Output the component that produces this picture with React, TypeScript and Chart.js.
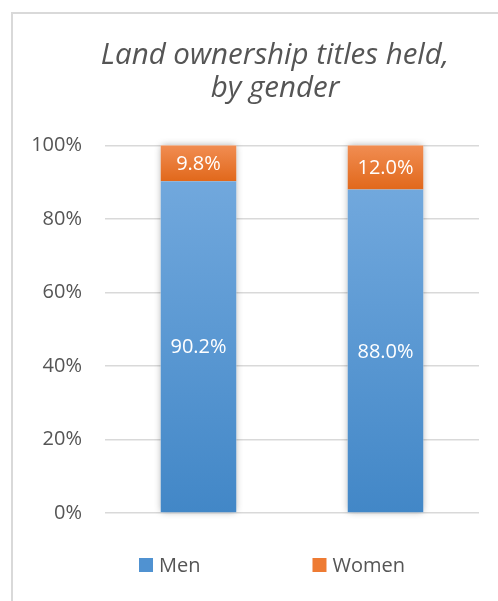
import React, { useEffect, useRef } from "react";
import { Chart, registerables } from "chart.js";

Chart.register(...registerables);

const categories: string[] = ["", ""];
const menValues: number[] = [90.2, 88.0];
const womenValues: number[] = [9.8, 12.0];
const seriesNames: string[] = ["Men", "Women"];
const titleLines: string[] = ["Land ownership titles held,", "by gender"];
const yTicks: number[] = [0, 20, 40, 60, 80, 100];

const FONT = "'Open Sans', 'DejaVu Sans', sans-serif";
const TEXT_COLOR = "#555555";

const blueStops = ["#71a8dd", "#4287c7"];
const orangeStops = ["#f18d52", "#e1681b"];
const legendColors = ["#5092d1", "#ee7b33"];

function gradientFor(stops: string[], which: "men" | "women") {
  return (c: any) => {
    const chart = c.chart;
    const { chartArea, scales } = chart;
    if (!chartArea || !scales || !scales.y || c.type !== "data") return stops[1];
    const i = c.dataIndex;
    const y = scales.y;
    let topV: number, botV: number;
    if (which === "men") {
      topV = menValues[i];
      botV = 0;
    } else {
      topV = menValues[i] + womenValues[i];
      botV = menValues[i];
    }
    const t = y.getPixelForValue(topV);
    const b = y.getPixelForValue(botV);
    if (!isFinite(t) || !isFinite(b) || t === b) return stops[1];
    const g = chart.ctx.createLinearGradient(0, t, 0, b);
    g.addColorStop(0, stops[0]);
    g.addColorStop(1, stops[1]);
    return g;
  };
}

const shadowPlugin = {
  id: "barShadow",
  beforeDatasetsDraw(chart: any) {
    const ctx = chart.ctx;
    const m0 = chart.getDatasetMeta(0);
    const m1 = chart.getDatasetMeta(1);
    m0.data.forEach((el: any, i: number) => {
      const top = Math.min(el.y, m1.data[i] ? m1.data[i].y : el.y);
      const bottom = el.base;
      const left = el.x - el.width / 2;
      ctx.save();
      ctx.shadowColor = "rgba(0,0,0,0.35)";
      ctx.shadowBlur = 7;
      ctx.shadowOffsetX = 0;
      ctx.shadowOffsetY = 0;
      ctx.fillStyle = "#ffffff";
      ctx.fillRect(left, top, el.width, bottom - top);
      ctx.restore();
    });
  },
};

const labelPlugin = {
  id: "segmentLabels",
  afterDatasetsDraw(chart: any) {
    const ctx = chart.ctx;
    ctx.save();
    ctx.font = `20px ${FONT}`;
    ctx.fillStyle = "#ffffff";
    ctx.textAlign = "center";
    ctx.textBaseline = "middle";
    chart.data.datasets.forEach((ds: any, di: number) => {
      const meta = chart.getDatasetMeta(di);
      meta.data.forEach((el: any, i: number) => {
        const v = ds.data[i] as number;
        ctx.fillText(v.toFixed(1) + "%", el.x, (el.y + el.base) / 2 + 1);
      });
    });
    ctx.restore();
  },
};

const legendPlugin = {
  id: "bottomLegend",
  afterDraw(chart: any) {
    const ctx = chart.ctx;
    const ca = chart.chartArea;
    const box = 14;
    const gapText = 6;
    const gapItems = 112;
    ctx.save();
    ctx.font = `20px ${FONT}`;
    ctx.textBaseline = "middle";
    ctx.textAlign = "left";
    const widths = chart.data.datasets.map(
      (ds: any) => box + gapText + ctx.measureText(ds.label).width
    );
    const total = widths.reduce((a: number, b: number) => a + b, 0) + gapItems * (widths.length - 1);
    let x = chart.width / 2 - total / 2 - 3;
    const cy = ca.bottom + 52;
    chart.data.datasets.forEach((ds: any, di: number) => {
      ctx.fillStyle = legendColors[di];
      ctx.fillRect(x, cy - box / 2, box, box);
      ctx.fillStyle = TEXT_COLOR;
      ctx.fillText(ds.label, x + box + gapText, cy + 1);
      x += widths[di] + gapItems;
    });
    ctx.restore();
  },
};

function ChartView() {
  const ref = useRef<HTMLCanvasElement | null>(null);
  useEffect(() => {
    if (!ref.current) return;
    const chart = new Chart(ref.current, {
      type: "bar",
      data: {
        labels: categories,
        datasets: [
          {
            label: seriesNames[0],
            data: menValues,
            backgroundColor: gradientFor(blueStops, "men") as any,
            borderWidth: 0,
            barPercentage: 1,
            categoryPercentage: 0.404,
          },
          {
            label: seriesNames[1],
            data: womenValues,
            backgroundColor: gradientFor(orangeStops, "women") as any,
            borderWidth: 0,
            barPercentage: 1,
            categoryPercentage: 0.404,
          },
        ],
      },
      options: {
        responsive: false,
        animation: false,
        devicePixelRatio: 1,
        layout: { padding: { left: 0, right: 0, top: 0, bottom: 88 } },
        plugins: {
          legend: { display: false },
          tooltip: { enabled: false },
          title: {
            display: true,
            text: titleLines,
            color: TEXT_COLOR,
            font: { family: FONT, size: 29.5, style: "italic", weight: "normal", lineHeight: 1.09 },
            padding: { top: 27, bottom: 41 },
          },
        },
        scales: {
          x: {
            stacked: true,
            display: false,
            offset: true,
          },
          y: {
            stacked: true,
            min: 0,
            max: 100,
            afterBuildTicks: (axis: any) => {
              axis.ticks = yTicks.map((v) => ({ value: v }));
            },
            afterFit: (axis: any) => {
              axis.width = 93;
            },
            border: { display: false },
            grid: { color: "#d9d9d9", lineWidth: 1.5, drawTicks: false },
            ticks: {
              padding: 23,
              color: TEXT_COLOR,
              font: { family: FONT, size: 20 },
              callback: (v: any) => `${v}%`,
            },
          },
          yRightSpace: {
            type: "linear",
            position: "right",
            display: true,
            min: 0,
            max: 100,
            border: { display: false },
            grid: { display: false, drawTicks: false },
            ticks: { display: false },
            afterFit: (axis: any) => {
              axis.width = 59;
            },
          },
        },
      },
      plugins: [shadowPlugin, labelPlugin, legendPlugin],
    });
    return () => chart.destroy();
  }, []);
  return (
    <canvas
      ref={ref}
      width={526}
      height={588}
      style={{ position: "absolute", left: 12, top: 13, width: 526, height: 588 }}
    />
  );
}

export default function App() {
  return (
    <div
      style={{
        position: "fixed",
        left: 0,
        top: 0,
        width: 498,
        height: 601,
        overflow: "hidden",
        background: "#ffffff",
      }}
    >
      <div
        style={{
          position: "absolute",
          left: 11,
          top: 12,
          width: 640,
          height: 700,
          border: "2px solid #d9d9d9",
          boxSizing: "border-box",
        }}
      />
      <ChartView />
    </div>
  );
}
